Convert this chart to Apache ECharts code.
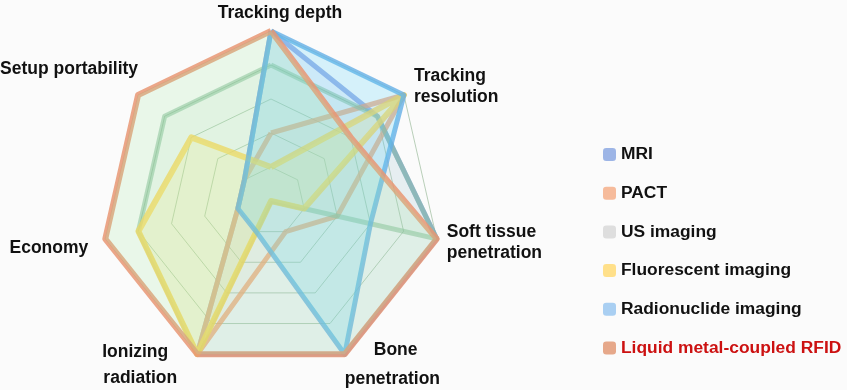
<!DOCTYPE html>
<html>
<head>
<meta charset="utf-8">
<script src="https://cdn.jsdelivr.net/npm/echarts@6/dist/echarts.min.js"></script>
<style>
html,body{margin:0;padding:0;background:#fbfbfb;}
#chart{width:847px;height:390px;}
</style>
</head>
<body>
<div id="chart"></div>
<script>
// Indicators in ECharts order (counter-clockwise from top)
const indicatorNames = ['Tracking depth', 'Setup portability', 'Economy', 'Ionizing radiation', 'Bone penetration', 'Soft tissue penetration', 'Tracking resolution'];
const indicatorMax = 5;
const seriesNames = ['MRI', 'PACT', 'US imaging', 'Fluorescent imaging', 'Radionuclide imaging', 'Liquid metal-coupled RFID'];
// values ordered as indicatorNames
const mriValues = [5, 1, 1, 5, 5, 5, 4];
const pactValues = [2, 1, 1, 5, 1, 2, 5];
const usValues = [4, 4, 4, 5, 0, 5, 4];
const fluorescentValues = [1, 3, 4, 5, 0, 1, 5];
const radionuclideValues = [5, 1, 1, 1, 5, 3, 5];
const rfidValues = [5, 5, 5, 5, 5, 5, 3];

const allValues = [mriValues, pactValues, usValues, fluorescentValues, radionuclideValues, rfidValues];
const lineColors = ['rgba(125,155,225,0.75)', 'rgba(240,160,115,0.75)', 'rgba(130,185,150,0.55)', 'rgba(255,212,85,0.8)', 'rgba(100,175,230,0.8)', 'rgba(232,150,115,0.85)'];
const areaColors = ['rgba(140,165,235,0.15)', 'rgba(245,185,150,0.10)', 'rgba(150,215,170,0.14)', 'rgba(255,235,120,0.30)', 'rgba(90,210,245,0.34)', 'rgba(165,232,165,0.30)'];
const legendColors = ['#9db5e6', '#f6bb9b', '#dedede', '#ffe08a', '#a9cff2', '#e6a88a'];
const lineWidths = [5, 5, 5, 6, 5, 6];

const labelStyles = {
  'Tracking depth': 'td', 'Setup portability': 'sp', 'Economy': 'ec', 'Ionizing radiation': 'ir',
  'Bone penetration': 'bp', 'Soft tissue penetration': 'st', 'Tracking resolution': 'tr'
};
const baseFont = {fontFamily: 'Liberation Sans, Arial, sans-serif', fontWeight: 'bold', fontSize: 17.5, color: '#111'};

const chart = echarts.init(document.getElementById('chart'));
chart.setOption({
  backgroundColor: '#fbfbfb',
  animation: false,
  legend: {
    orient: 'vertical',
    left: 598,
    top: 141,
    itemWidth: 13,
    itemHeight: 13,
    itemGap: 21.7,
    icon: 'roundRect',
    textStyle: {fontFamily: 'Liberation Sans, Arial, sans-serif', fontWeight: 'bold', fontSize: 17.4, color: '#111'},
    data: seriesNames.map((n, i) => ({
      name: n,
      itemStyle: {color: legendColors[i], borderWidth: 0},
      textStyle: i === 5 ? {color: '#cc1111'} : {}
    }))
  },
  radar: {
    center: [271, 201],
    radius: 170,
    startAngle: 90,
    splitNumber: 5,
    shape: 'polygon',
    nameGap: 0,
    indicator: indicatorNames.map(n => ({name: n, max: indicatorMax, min: 0})),
    axisName: {
      formatter: function (name) {
        const k = labelStyles[name];
        if (k === 'tr') return '{tr|Tracking}\n{tr|resolution}';
        if (k === 'st') return '{st|Soft tissue}\n{st|penetration}';
        if (k === 'bp') return '{bpa|Bone}\n{bp|penetration}';
        if (k === 'ir') return '{ira|Ionizing}\n{ir|radiation}';
        return '{' + k + '|' + name + '}';
      },
      rich: {
        td: Object.assign({}, baseFont, {padding: [0, 0, 9, 18]}),
        tr: Object.assign({}, baseFont, {lineHeight: 21, padding: [0, 0, 16, 10]}),
        st: Object.assign({}, baseFont, {lineHeight: 21, padding: [8, 0, 0, 10]}),
        bpa: Object.assign({}, baseFont, {padding: [21, 0, 11, 29]}),
        bp: Object.assign({}, baseFont, {padding: [0, 0, 0, 0]}),
        ira: Object.assign({}, baseFont, {padding: [22, 29, 8, 0]}),
        ir: Object.assign({}, baseFont, {padding: [0, 20, 0, 0]}),
        ec: Object.assign({}, baseFont, {padding: [18, 17, 0, 0]}),
        sp: Object.assign({}, baseFont, {padding: [0, 0, 52, 0]})
      }
    },
    axisLine: {show: false},
    axisTick: {show: false},
    axisLabel: {show: false},
    splitArea: {show: false},
    splitLine: {lineStyle: {color: 'rgba(130,170,130,0.55)', width: 1}}
  },
  series: seriesNames.map((n, i) => ({
    type: 'radar',
    name: n,
    symbol: 'none',
    itemStyle: {color: legendColors[i]},
    lineStyle: {color: lineColors[i], width: lineWidths[i], join: 'round'},
    areaStyle: {color: areaColors[i]},
    data: [{value: allValues[i], name: n}]
  }))
});
</script>
</body>
</html>
